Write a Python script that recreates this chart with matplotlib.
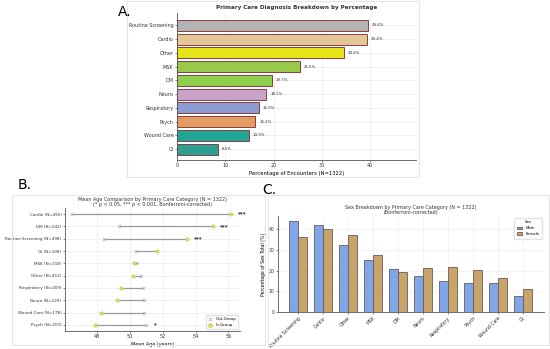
import matplotlib
matplotlib.use("Agg")
import matplotlib.pyplot as plt
from matplotlib.patches import Rectangle
import numpy as np

# Panel A data
diag_labels = ["Routine Screening", "Cardio", "Other", "MSK", "DM", "Neuro",
               "Respiratory", "Psych", "Wound Care", "GI"]
diag_pct = [39.6, 39.4, 34.6, 25.5, 19.7, 18.5, 16.9, 16.2, 14.9, 8.5]
diag_colors = ["#b3b3b3", "#e3c796", "#e8e41a", "#98c94a", "#8fcf4f", "#c9a3c8",
               "#8b9bd3", "#e39d62", "#21a596", "#2e9e92"]

# Panel B data
age_labels = ["Cardio (N=495)", "DM (N=242)", "Routine Screening (N=498)", "GI (N=108)",
              "MSK (N=318)", "Other (N=412)", "Respiratory (N=209)", "Neuro (N=229)",
              "Wound Care (N=178)", "Psych (N=200)"]
age_out = [46.5, 49.35, 48.45, 50.4, 50.45, 50.65, 50.8, 50.85, 50.85, 51.0]
age_in = [56.15, 55.05, 53.45, 51.65, 50.25, 50.2, 49.45, 49.2, 48.25, 47.85]
age_sig = ["***", "***", "***", "", "", "", "", "", "", "*"]

# Panel C data
sex_cats = ["Routine Screening", "Cardio", "Other", "MSK", "DM", "Neuro",
            "Respiratory", "Psych", "Wound Care", "GI"]
male_pct = [44.3, 41.9, 32.5, 25.4, 20.7, 17.2, 14.9, 14.2, 13.9, 7.6]
female_pct = [36.1, 40.1, 37.4, 27.7, 19.4, 21.5, 22.0, 20.4, 16.5, 11.0]

W, H = 550, 349
fig = plt.figure(figsize=(5.5, 3.49), dpi=100)


def px_axes(left, top, right, bottom):
    return fig.add_axes([left / W, 1 - bottom / H, (right - left) / W, (bottom - top) / H])


def frame(left, top, right, bottom):
    fig.patches.append(Rectangle((left / W, 1 - bottom / H), (right - left) / W,
                                 (bottom - top) / H, transform=fig.transFigure,
                                 fill=False, edgecolor="#e6e6e6", linewidth=0.8))


def style(ax):
    for s in ["top", "right"]:
        ax.spines[s].set_visible(False)
    for s in ["left", "bottom"]:
        ax.spines[s].set_color("#555555")
        ax.spines[s].set_linewidth(0.6)
    ax.tick_params(length=1.5, width=0.4, pad=1, colors="#333333")
    ax.set_axisbelow(True)


frame(127, 1, 419, 177)
frame(12, 195, 265, 345)
frame(268, 195, 549, 345)

# ---- A ----
axA = px_axes(177, 13, 416, 160)
style(axA)
yA = np.arange(len(diag_labels))
axA.barh(yA, diag_pct, height=0.8, color=diag_colors, edgecolor="#8a3d3d", linewidth=0.7)
for y, v in zip(yA, diag_pct):
    axA.text(v + 0.8, y, f"{v}%", va="center", ha="left", fontsize=2.8, color="#333333")
axA.set_yticks(yA)
axA.set_yticklabels(diag_labels, fontsize=3.5)
axA.set_ylim(9.8, -0.9)
axA.set_xlim(0, 49.5)
axA.set_xticks([0, 10, 20, 30, 40])
axA.tick_params(axis="x", labelsize=3.5)
axA.grid(True, color="#ececec", linewidth=0.5)
axA.set_xlabel("Percentage of Encounters (N=1322)", fontsize=3.8, labelpad=1.5)
axA.set_title("Primary Care Diagnosis Breakdown by Percentage", fontsize=4.1,
              fontweight="bold", pad=3, color="#333333")
fig.text(118 / W, 1 - 12 / H, "A.", fontsize=10, va="center", ha="left")

# ---- B ----
axB = px_axes(65, 208, 240, 331)
style(axB)
yB = np.arange(len(age_labels))
for y, o, i, s in zip(yB, age_out, age_in, age_sig):
    axB.plot([o, i], [y, y], color="#999999", linewidth=0.9, zorder=2)
    if s:
        axB.text(max(o, i) + 0.45, y, s, fontsize=4, fontweight="bold",
                 va="center", ha="left", color="#333333")
axB.scatter(age_out, yB, marker="x", s=4, color="#a9b3e6", linewidths=0.6,
            zorder=3, label="Out-Group")
axB.scatter(age_in, yB, marker="o", s=6, color="#e3e04a", edgecolor="#b8b84a",
            linewidths=0.3, zorder=3, label="In-Group")
axB.set_yticks(yB)
axB.set_yticklabels(age_labels, fontsize=3)
axB.set_ylim(9.5, -0.5)
axB.set_xlim(46.05, 56.7)
axB.set_xticks([48, 50, 52, 54, 56])
axB.tick_params(axis="x", labelsize=3.5)
axB.grid(True, color="#ececec", linewidth=0.5)
axB.set_xlabel("Mean Age (years)", fontsize=3.5, labelpad=1.5)
axB.set_title("Mean Age Comparison by Primary Care Category (N = 1322)\n"
              "(* p < 0.05, *** p < 0.001, Bonferroni-corrected)",
              fontsize=3.5, pad=1.5, color="#333333", linespacing=1.0)
axB.legend(loc="lower right", fontsize=2.8, frameon=True, framealpha=0.9,
           edgecolor="#dddddd", handlelength=1, borderpad=0.5, markerscale=1.2)
fig.text(18 / W, 1 - 185 / H, "B.", fontsize=10, va="center", ha="left")

# ---- C ----
axC = px_axes(278, 216, 544, 312)
style(axC)
xC = np.arange(len(sex_cats))
bw = 0.36
axC.bar(xC - bw / 2, male_pct, width=bw, color="#7ea6e8", edgecolor="#6b5a5a",
        linewidth=0.6, label="Male")
axC.bar(xC + bw / 2, female_pct, width=bw, color="#c9a46a", edgecolor="#6b5a5a",
        linewidth=0.6, label="Female")
axC.set_xticks(xC)
axC.set_xticklabels(sex_cats, rotation=45, ha="right", rotation_mode="anchor", fontsize=3.3)
axC.set_xlim(-0.8, 9.85)
axC.set_ylim(0, 46.5)
axC.set_yticks([0, 10, 20, 30, 40])
axC.tick_params(axis="y", labelsize=3.3)
axC.grid(True, color="#f0f0f0", linewidth=0.5)
axC.set_ylabel("Percentage of Sex Total (%)", fontsize=3.3, labelpad=2)
axC.set_title("Sex Breakdown by Primary Care Category (N = 1322)\n(Bonferroni-corrected)",
              fontsize=3.5, pad=1.5, color="#333333", linespacing=1.0)
leg = axC.legend(title="Sex", loc="upper right", fontsize=2.8, title_fontsize=2.8,
                 frameon=True, edgecolor="#dddddd", handlelength=1.5, borderpad=0.6)
fig.text(262 / W, 1 - 190 / H, "C.", fontsize=10, va="center", ha="left")

fig.savefig("out.png", dpi=100, facecolor="white")
